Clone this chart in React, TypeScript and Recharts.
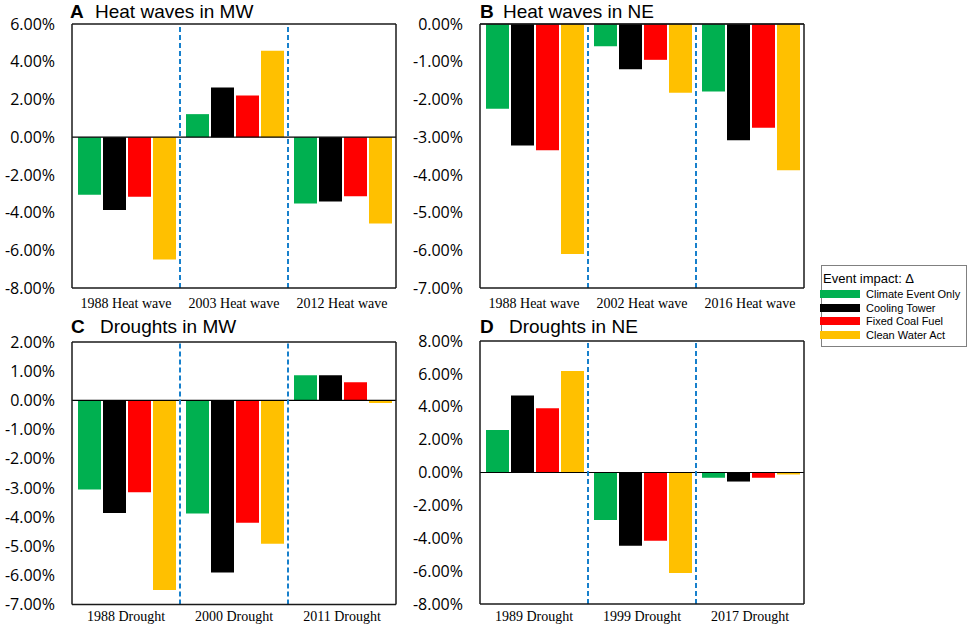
import { BarChart, Bar, XAxis, YAxis, ReferenceLine } from 'recharts'

// series shared by all four panels
const seriesKeys = ['climate', 'cooling', 'coal', 'cwa']
const seriesNames = ['Climate Event Only', 'Cooling Tower', 'Fixed Coal Fuel', 'Clean Water Act']
const seriesColors = ['#00B050', '#000000', '#FF0000', '#FFC000']

// A: heat waves in MW
const heatMwEvents = ['1988 Heat wave', '2003 Heat wave', '2012 Heat wave']
const heatMwClimate = [-3.05, 1.22, -3.52]
const heatMwCooling = [-3.87, 2.63, -3.41]
const heatMwCoal = [-3.16, 2.21, -3.13]
const heatMwCwa = [-6.49, 4.58, -4.58]
const heatMwTicks = [6, 4, 2, 0, -2, -4, -6, -8]

// B: heat waves in NE
const heatNeEvents = ['1988 Heat wave', '2002 Heat wave', '2016 Heat wave']
const heatNeClimate = [-2.25, -0.59, -1.79]
const heatNeCooling = [-3.22, -1.2, -3.08]
const heatNeCoal = [-3.35, -0.95, -2.75]
const heatNeCwa = [-6.1, -1.82, -3.88]
const heatNeTicks = [0, -1, -2, -3, -4, -5, -6, -7]

// C: droughts in MW
const droughtMwEvents = ['1988 Drought', '2000 Drought', '2011 Drought']
const droughtMwClimate = [-3.06, -3.88, 0.86]
const droughtMwCooling = [-3.86, -5.9, 0.86]
const droughtMwCoal = [-3.15, -4.2, 0.62]
const droughtMwCwa = [-6.5, -4.92, -0.09]
const droughtMwTicks = [2, 1, 0, -1, -2, -3, -4, -5, -6, -7]

// D: droughts in NE
const droughtNeEvents = ['1989 Drought', '1999 Drought', '2017 Drought']
const droughtNeClimate = [2.59, -2.89, -0.32]
const droughtNeCooling = [4.68, -4.45, -0.55]
const droughtNeCoal = [3.91, -4.15, -0.32]
const droughtNeCwa = [6.17, -6.11, -0.12]
const droughtNeTicks = [8, 6, 4, 2, 0, -2, -4, -6, -8]

const SANS = '"Open Sans", "Noto Sans", sans-serif'
const SERIF = '"Liberation Serif", "Times New Roman", serif'
const ARIAL = '"Liberation Sans", Arial, sans-serif'

const FRAME = '#1a1a1a'
const frame = { stroke: FRAME, strokeWidth: 1.5 }

interface PanelProps {
    left: number
    top: number
    width: number
    height: number
    marginTop: number
    marginRight: number
    yWidth: number
    labelGap: number
    events: string[]
    values: number[][]
    ticks: number[]
}

function Panel({ left, top, width, height, marginTop, marginRight, yWidth, labelGap, events, values, ticks }: PanelProps) {
    const data = events.map((event, i) => {
        const row: Record<string, any> = { event }
        seriesKeys.forEach((k, s) => { row[k] = values[s][i] })
        return row
    })
    const lo = ticks[ticks.length - 1]
    const hi = ticks[0]

    return (
        <div style={{ position: 'absolute', left, top }}>
            <BarChart
                width={width}
                height={height}
                data={data}
                margin={{ top: marginTop, right: marginRight, bottom: 0, left: 0 }}
                barCategoryGap={6}
                barGap={2}
            >
                <XAxis
                    dataKey="event"
                    height={30}
                    interval={0}
                    tickLine={false}
                    axisLine={frame}
                    tickSize={0}
                    tickMargin={labelGap}
                    tick={{ fontFamily: SERIF, fontSize: 14, fill: '#000' }}
                />
                <YAxis
                    type="number"
                    domain={[lo, hi]}
                    ticks={ticks}
                    interval={0}
                    allowDataOverflow
                    width={yWidth}
                    tickLine={false}
                    axisLine={frame}
                    tickSize={0}
                    tickMargin={17}
                    tickFormatter={(v: number) => `${v.toFixed(2)}%`}
                    tick={{ fontFamily: SANS, fontSize: 16, fill: '#000' }}
                />
                {seriesKeys.map((k, s) => (
                    <Bar key={k} dataKey={k} fill={seriesColors[s]} isAnimationActive={false} />
                ))}
                <ReferenceLine y={0} stroke="#000" strokeWidth={1.2} />
                {events.slice(1).map(e => (
                    <ReferenceLine
                        key={e}
                        x={e}
                        position="start"
                        stroke="#1780CC"
                        strokeWidth={2}
                        strokeDasharray="5 3"
                    />
                ))}
                {/* top and right edges of the frame */}
                <ReferenceLine y={hi} stroke={FRAME} strokeWidth={1.5} />
                <ReferenceLine x={events[events.length - 1]} position="end" stroke={FRAME} strokeWidth={1.5} />
            </BarChart>
        </div>
    )
}

const titles = [
    { letter: 'A', text: 'Heat waves in MW', lx: 70, tx: 95, y: 18 },
    { letter: 'B', text: 'Heat waves in NE', lx: 480, tx: 503, y: 18 },
    { letter: 'C', text: 'Droughts in MW', lx: 71, tx: 100, y: 333 },
    { letter: 'D', text: 'Droughts in NE', lx: 480, tx: 509, y: 333 },
]

export default function App() {
    return (
        <div style={{ position: 'absolute', left: 0, top: 0, width: 969, height: 626, background: '#fff' }}>
            <Panel
                left={0} top={0} width={410} height={318}
                marginTop={24} marginRight={14} yWidth={72} labelGap={10}
                events={heatMwEvents}
                values={[heatMwClimate, heatMwCooling, heatMwCoal, heatMwCwa]}
                ticks={heatMwTicks}
            />
            <Panel
                left={410} top={0} width={410} height={318}
                marginTop={24} marginRight={16} yWidth={70} labelGap={10}
                events={heatNeEvents}
                values={[heatNeClimate, heatNeCooling, heatNeCoal, heatNeCwa]}
                ticks={heatNeTicks}
            />
            <Panel
                left={0} top={318} width={410} height={316.5}
                marginTop={24} marginRight={14} yWidth={72} labelGap={7}
                events={droughtMwEvents}
                values={[droughtMwClimate, droughtMwCooling, droughtMwCoal, droughtMwCwa]}
                ticks={droughtMwTicks}
            />
            <Panel
                left={410} top={318} width={410} height={316}
                marginTop={23} marginRight={16} yWidth={70} labelGap={7}
                events={droughtNeEvents}
                values={[droughtNeClimate, droughtNeCooling, droughtNeCoal, droughtNeCwa]}
                ticks={droughtNeTicks}
            />

            {/* panel titles */}
            <svg width={969} height={626} style={{ position: 'absolute', left: 0, top: 0, pointerEvents: 'none' }}>
                {titles.map(t => (
                    <g key={t.letter}>
                        <text x={t.lx} y={t.y} fontFamily={ARIAL} fontWeight="bold" fontSize={19} fill="#000">{t.letter}</text>
                        <text x={t.tx} y={t.y} fontFamily={ARIAL} fontSize={19} fill="#000">{t.text}</text>
                    </g>
                ))}
            </svg>

            {/* legend */}
            <div style={{
                position: 'absolute', left: 821, top: 265, width: 146, height: 82,
                boxSizing: 'border-box', border: '1px solid #808080', background: '#fff', fontFamily: ARIAL,
            }}>
                <div style={{ position: 'absolute', left: 1, top: 5, fontSize: 13, lineHeight: '15px', whiteSpace: 'nowrap' }}>
                    Event impact: Δ
                </div>
                {seriesNames.map((name, s) => (
                    <div key={name} style={{ position: 'absolute', left: -2, top: 21 + s * 13.6, height: 14, width: 150 }}>
                        <div style={{ position: 'absolute', left: 0, top: 3, width: 40, height: 8, background: seriesColors[s] }} />
                        <div style={{ position: 'absolute', left: 46, top: 0, fontSize: 11, lineHeight: '14px', whiteSpace: 'nowrap' }}>
                            {name}
                        </div>
                    </div>
                ))}
            </div>
        </div>
    )
}
